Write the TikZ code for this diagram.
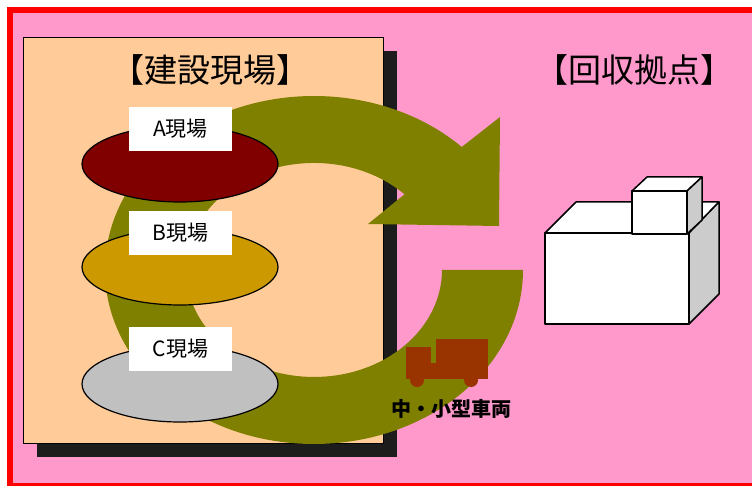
\documentclass[tikz,border=0pt]{standalone}
\usepackage{fontspec}
\setmainfont{Noto Sans CJK JP}
\usepackage{xcolor}
\usepackage{tikz}
\usetikzlibrary{shapes.geometric}

\definecolor{bgpink}{HTML}{FF99CC}
\definecolor{peach}{HTML}{FFCC99}
\definecolor{shadow}{HTML}{1C1C1C}
\definecolor{bandolive}{HTML}{808000}
\definecolor{siteA}{HTML}{800000}
\definecolor{siteB}{HTML}{CC9900}
\definecolor{siteC}{HTML}{C0C0C0}
\definecolor{truck}{HTML}{993300}
\definecolor{side}{HTML}{CCCCCC}

\begin{document}
\begin{tikzpicture}[x=1pt, y=-1pt,
    site/.style={ellipse, draw, line width=1.2pt, minimum width=196pt, minimum height=76pt, inner sep=0pt},
    tag/.style={fill=white, minimum width=103pt, minimum height=44pt, inner sep=0pt, font=\fontsize{21}{25}\selectfont},
    heading/.style={font=\fontsize{33}{39}\selectfont},
    face/.style={draw, line width=1.5pt, line join=round}]
    \useasboundingbox (0, 0) rectangle (752, 486);
    % frame
    \fill [bgpink] (10, 10) rectangle (760, 490);
    \draw [red, line width=6pt] (10, 10) rectangle (758, 486);
    % construction sites panel
    \fill [shadow] (37, 51) rectangle (397, 457);
    \filldraw [fill=peach, draw=black, line width=0.8pt] (23, 37) rectangle (383, 443);
    \node [heading] (0) at (210, 70) {【建設現場】};
    % round trip arrow
    \fill [bandolive] (523, 270) arc [start angle=0, end angle=315, x radius=209, y radius=174]
        -- (500, 117) -- (499, 226) -- (368, 224) -- (404.5, 194.3)
        arc [start angle=315, end angle=0, x radius=128, y radius=107] -- cycle;
    % sites
    \node [site, fill=siteA] (1) at (180, 164) {};
    \node [site, fill=siteB] (2) at (180, 267) {};
    \node [site, fill=siteC] (3) at (180, 384) {};
    \node [tag] (4) at (180.5, 129) {A現場};
    \node [tag] (5) at (180.5, 233) {B現場};
    \node [tag] (6) at (180.5, 349) {C現場};
    % collection point
    \node [heading] (7) at (634, 70) {【回収拠点】};
    \filldraw [face, fill=white] (545, 233) -- (576, 202) -- (719, 202) -- (689, 233) -- cycle;
    \filldraw [face, fill=side] (689, 233) -- (719, 202) -- (719, 294) -- (689, 324) -- cycle;
    \filldraw [face, fill=white] (545, 233) rectangle (689, 324);
    \filldraw [face, fill=white] (632, 191) -- (647, 177) -- (702, 177) -- (687, 191) -- cycle;
    \filldraw [face, fill=side] (687, 191) -- (702, 177) -- (702, 220) -- (687, 234) -- cycle;
    \filldraw [face, fill=white] (632, 191) rectangle (687, 234);
    % truck
    \fill [truck] (406, 347) rectangle (431, 379);
    \fill [truck] (431, 363) rectangle (436, 379);
    \fill [truck] (436, 339) rectangle (488, 379);
    \fill [truck] (417, 380) circle (7);
    \fill [truck] (471, 380) circle (7);
    \node [font=\fontsize{20}{24}\selectfont\bfseries] (8) at (451, 409) {中・小型車両};
\end{tikzpicture}
\end{document}
